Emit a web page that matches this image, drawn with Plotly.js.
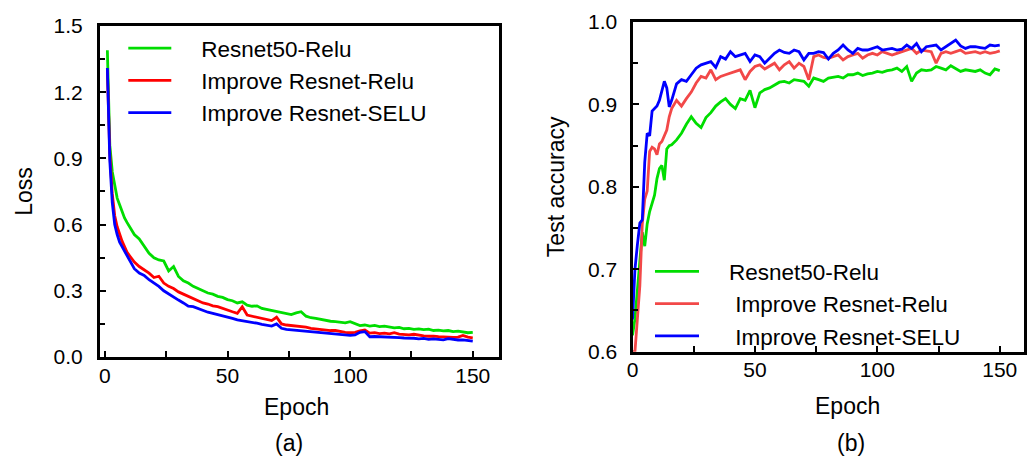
<!DOCTYPE html>
<html>
<head>
<meta charset="utf-8">
<script src="https://cdn.plot.ly/plotly-3.0.1.min.js"></script>
<style>html,body{margin:0;padding:0;background:#fff;}#chart{width:1030px;height:457px;}</style>
</head>
<body>
<div id="chart"></div>
<script>
// ---------- data ----------
const seriesNames = ["Resnet50-Relu", "Improve Resnet-Relu", "Improve Resnet-SELU"];

// (a) loss vs epoch
const lossEpoch = [1,2,3,4,5,6,7,8,9,10,
  12,14,16,18,20,22,24,26,28,30,32,34,36,38,40,42,44,46,48,50,
  52,54,56,58,60,62,64,66,68,70,72,74,76,78,80,82,84,86,88,90,
  92,94,96,98,100,102,104,106,108,110,112,114,116,118,120,122,124,126,128,130,
  132,134,136,138,140,142,144,146,148,150];
const lossResnet50Relu = [1.39,0.96,0.84,0.77,0.72,0.69,0.66,0.63,0.61,0.59,
  0.555,0.535,0.50,0.47,0.45,0.44,0.435,0.39,0.41,0.365,0.345,0.335,0.32,0.31,0.30,0.29,0.285,0.275,0.27,0.26,
  0.255,0.245,0.25,0.235,0.23,0.232,0.22,0.215,0.21,0.205,0.20,0.198,0.192,0.20,0.205,0.185,0.178,0.175,0.17,0.168,
  0.162,0.16,0.158,0.155,0.16,0.15,0.142,0.145,0.14,0.143,0.138,0.14,0.135,0.132,0.134,0.128,0.13,0.125,0.127,0.124,
  0.126,0.12,0.122,0.118,0.12,0.115,0.117,0.112,0.11,0.112];
const lossImproveRelu = [1.30,0.92,0.74,0.64,0.59,0.555,0.525,0.50,0.475,0.46,
  0.43,0.41,0.395,0.38,0.36,0.366,0.335,0.32,0.31,0.295,0.285,0.275,0.265,0.255,0.245,0.24,0.232,0.228,0.22,0.21,
  0.205,0.198,0.228,0.19,0.185,0.18,0.175,0.17,0.165,0.18,0.15,0.145,0.143,0.14,0.137,0.135,0.13,0.127,0.125,0.123,
  0.12,0.12,0.115,0.112,0.11,0.112,0.118,0.122,0.108,0.11,0.106,0.108,0.105,0.11,0.104,0.102,0.10,0.103,0.098,0.096,
  0.094,0.095,0.092,0.09,0.091,0.089,0.09,0.098,0.09,0.087];
const lossImproveSelu = [1.31,0.89,0.70,0.60,0.555,0.52,0.50,0.48,0.46,0.44,
  0.40,0.38,0.37,0.35,0.335,0.32,0.30,0.285,0.27,0.258,0.245,0.23,0.228,0.22,0.21,0.203,0.198,0.193,0.188,0.182,
  0.175,0.168,0.165,0.16,0.157,0.153,0.148,0.143,0.14,0.15,0.13,0.125,0.123,0.12,0.118,0.115,0.113,0.11,0.108,0.107,
  0.104,0.102,0.10,0.099,0.098,0.10,0.112,0.115,0.092,0.093,0.092,0.094,0.09,0.091,0.088,0.086,0.087,0.085,0.082,0.084,
  0.08,0.082,0.08,0.078,0.083,0.08,0.077,0.078,0.075,0.072];

// (b) test accuracy vs epoch
const accEpoch = [0,1,2,3,4,5,6,7,8,9,10,11,12,13,14,15,16,
  18,20,22,24,26,28,30,32,34,36,38,40,42,44,46,48,50,
  52,54,56,58,60,62,64,66,68,70,72,74,76,78,80,82,84,86,88,90,
  92,94,96,98,100,102,104,106,108,110,112,114,116,118,120,122,124,126,128,130,
  132,134,136,138,140,142,144,146,148,150];
const accResnet50Relu = [0.62,0.64,0.675,0.71,0.745,0.728,0.755,0.77,0.78,0.79,0.81,0.822,0.826,0.808,0.846,0.85,0.851,
  0.857,0.865,0.876,0.885,0.877,0.872,0.884,0.89,0.898,0.903,0.907,0.90,0.895,0.907,0.905,0.917,0.896,
  0.914,0.918,0.92,0.924,0.927,0.928,0.926,0.93,0.929,0.928,0.922,0.932,0.93,0.928,0.932,0.933,0.934,0.932,0.936,0.936,
  0.938,0.935,0.937,0.938,0.94,0.939,0.941,0.942,0.944,0.94,0.946,0.928,0.938,0.942,0.941,0.942,0.946,0.944,0.942,0.947,
  0.944,0.94,0.942,0.941,0.94,0.942,0.938,0.936,0.943,0.941];
const accImproveRelu = [0.60,0.60,0.64,0.68,0.755,0.785,0.795,0.843,0.848,0.846,0.839,0.852,0.855,0.862,0.869,0.885,0.895,
  0.905,0.898,0.907,0.915,0.926,0.934,0.932,0.942,0.93,0.934,0.936,0.938,0.94,0.942,0.93,0.94,0.946,
  0.948,0.943,0.946,0.95,0.942,0.948,0.952,0.944,0.95,0.946,0.93,0.958,0.96,0.957,0.956,0.958,0.96,0.954,0.958,0.96,
  0.962,0.956,0.96,0.962,0.96,0.964,0.962,0.96,0.962,0.964,0.966,0.968,0.962,0.966,0.965,0.964,0.95,0.962,0.964,0.962,
  0.964,0.966,0.962,0.963,0.964,0.962,0.964,0.962,0.963,0.965];
const accImproveSelu = [0.639,0.70,0.73,0.756,0.76,0.83,0.865,0.862,0.892,0.895,0.898,0.905,0.918,0.928,0.92,0.897,0.905,
  0.925,0.93,0.928,0.936,0.944,0.948,0.95,0.952,0.945,0.958,0.955,0.964,0.958,0.96,0.962,0.952,0.96,
  0.958,0.95,0.956,0.962,0.966,0.963,0.962,0.966,0.964,0.954,0.962,0.962,0.964,0.963,0.955,0.962,0.966,0.972,0.966,0.962,
  0.968,0.966,0.966,0.968,0.97,0.966,0.967,0.968,0.966,0.967,0.972,0.968,0.974,0.964,0.97,0.971,0.972,0.966,0.97,0.974,
  0.978,0.971,0.968,0.97,0.97,0.969,0.968,0.972,0.971,0.972];

// ---------- styling ----------
const FONT = "Liberation Sans, Arial, sans-serif";
const colA = ["#00dd00", "#ff0000", "#0000ff"];
const colB = ["#00dd00", "#f24848", "#0000ff"];
const pad4 = "\u00a0\u00a0\u00a0\u00a0";

const lossSeries = [lossResnet50Relu, lossImproveRelu, lossImproveSelu];
const accSeries = [accResnet50Relu, accImproveRelu, accImproveSelu];

const traces = [];
lossSeries.forEach((ys, i) => traces.push({
  x: lossEpoch, y: ys, type: "scatter", mode: "lines", name: pad4 + seriesNames[i],
  line: {color: colA[i], width: 2.8}, xaxis: "x", yaxis: "y", legend: "legend"
}));
const padB = [pad4, pad4 + "\u00a0", pad4 + "\u00a0"];
accSeries.forEach((ys, i) => traces.push({
  x: accEpoch, y: ys, type: "scatter", mode: "lines", name: padB[i] + seriesNames[i],
  line: {color: colB[i], width: 2.8}, xaxis: "x2", yaxis: "y2", legend: "legend2"
}));

const axisCommon = {
  showline: true, mirror: true, linecolor: "#000", linewidth: 3,
  showgrid: false, zeroline: false,
  ticks: "inside", ticklen: 6, tickwidth: 2, tickcolor: "#000",
  tickfont: {family: FONT, size: 21, color: "#000"},
  fixedrange: true
};

const layout = {
  width: 1030, height: 457,
  margin: {l: 0, r: 0, t: 0, b: 0},
  paper_bgcolor: "#fff", plot_bgcolor: "#fff",
  font: {family: FONT, color: "#000"},
  showlegend: true,
  xaxis: Object.assign({}, axisCommon, {
    domain: [0.09709, 0.48447], range: [-2, 160.7], tick0: 0, dtick: 50,
    minor: {dtick: 25, ticks: "inside", ticklen: 6, tickwidth: 2, tickcolor: "#000", showgrid: false},
    ticklabelstandoff: -2, anchor: "y"
  }),
  yaxis: Object.assign({}, axisCommon, {
    domain: [0.21882, 0.94311], range: [0, 1.5], tick0: 0, dtick: 0.3, tickformat: ".1f",
    minor: {dtick: 0.15, ticks: "inside", ticklen: 5, tickwidth: 2, tickcolor: "#000", showgrid: false},
    ticklabelstandoff: 10, anchor: "x",
    title: {text: "Loss", font: {family: FONT, size: 23, color: "#000"}, standoff: 15}
  }),
  xaxis2: Object.assign({}, axisCommon, {
    domain: [0.61408, 0.99466], range: [0, 160.1], tick0: 0, dtick: 50,
    minor: {dtick: 25, ticks: "inside", ticklen: 6, tickwidth: 2, tickcolor: "#000", showgrid: false},
    ticklabelstandoff: -3, anchor: "y2"
  }),
  yaxis2: Object.assign({}, axisCommon, {
    domain: [0.23042, 0.95186], range: [0.6, 1.0], tick0: 0.6, dtick: 0.1, tickformat: ".1f",
    minor: {dtick: 0.05, ticks: "inside", ticklen: 5, tickwidth: 2, tickcolor: "#000", showgrid: false},
    ticklabelstandoff: 8, anchor: "x2",
    title: {text: "Test accuracy", font: {family: FONT, size: 23, color: "#000"}, standoff: 18}
  }),
  legend: {
    x: 123.3 / 1030, y: (457 - 27) / 457, xanchor: "left", yanchor: "top",
    bgcolor: "rgba(0,0,0,0)", borderwidth: 0, itemwidth: 43,
    font: {family: FONT, size: 22.5, color: "#000"}, tracegroupgap: 0
  },
  legend2: {
    x: 650 / 1030, y: (457 - 250.3) / 457, xanchor: "left", yanchor: "top",
    bgcolor: "rgba(0,0,0,0)", borderwidth: 0, itemwidth: 44,
    font: {family: FONT, size: 22.5, color: "#000"}, tracegroupgap: 0
  },
  annotations: [
    {text: "Epoch", xref: "paper", yref: "paper", x: 296.7 / 1030, y: (457 - 406.7) / 457,
     xanchor: "center", yanchor: "middle", showarrow: false, font: {family: FONT, size: 23, color: "#000"}},
    {text: "Epoch", xref: "paper", yref: "paper", x: 847.7 / 1030, y: (457 - 406) / 457,
     xanchor: "center", yanchor: "middle", showarrow: false, font: {family: FONT, size: 23, color: "#000"}},
    {text: "(a)", xref: "paper", yref: "paper", x: 288.7 / 1030, y: (457 - 443) / 457,
     xanchor: "center", yanchor: "middle", showarrow: false, font: {family: FONT, size: 23, color: "#000"}},
    {text: "(b)", xref: "paper", yref: "paper", x: 851 / 1030, y: (457 - 443) / 457,
     xanchor: "center", yanchor: "middle", showarrow: false, font: {family: FONT, size: 23, color: "#000"}}
  ]
};

Plotly.newPlot("chart", traces, layout, {staticPlot: true, displayModeBar: false});
</script>
</body>
</html>
